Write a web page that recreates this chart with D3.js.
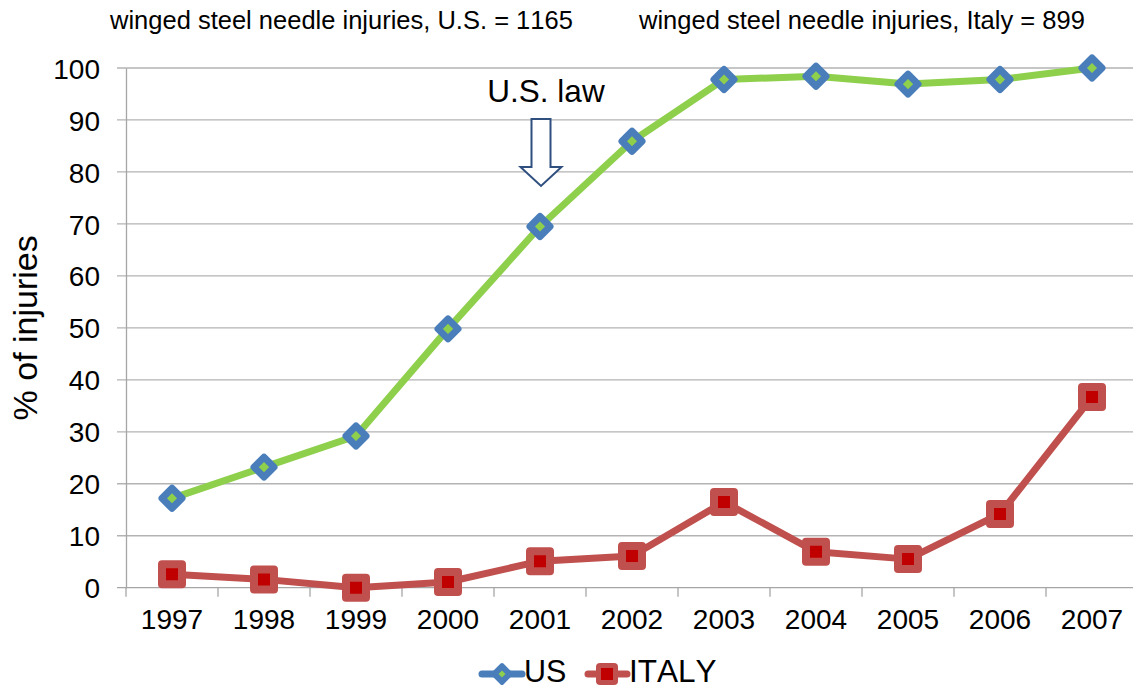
<!DOCTYPE html>
<html>
<head>
<meta charset="utf-8">
<script src="https://cdn.jsdelivr.net/npm/d3@7"></script>
<style>
  body { margin: 0; background: #fff; }
  svg text { font-family: "Liberation Sans", Arial, sans-serif; fill: #000; font-kerning: none; }
</style>
</head>
<body>
<div id="chart"></div>
<script>
// --> DATA
var years = ["1997", "1998", "1999", "2000", "2001", "2002", "2003", "2004", "2005", "2006", "2007"];
var usValues = [17.2, 23.2, 29.2, 49.8, 69.5, 85.9, 97.8, 98.4, 96.9, 97.8, 100];
var italyValues = [2.6, 1.6, 0, 1.1, 5.1, 6.1, 16.5, 6.9, 5.5, 14.2, 36.7];
var yTicks = [0, 10, 20, 30, 40, 50, 60, 70, 80, 90, 100];
var seriesNames = ["US", "ITALY"];
var topNotes = ["winged steel needle injuries, U.S. = 1165", "winged steel needle injuries, Italy = 899"];
var lawYear = "2001";

// --> SVG DRAWING AREA
var width = 1133,
    height = 691;
var margin = { top: 68, left: 126, bottom: 103, right: -5 };

var svg = d3.select("#chart").append("svg")
    .attr("width", width)
    .attr("height", height);

var x = d3.scaleBand()
    .domain(years)
    .range([margin.left, width - margin.right])
    .padding(0);

var y = d3.scaleLinear()
    .domain([0, 100])
    .range([height - margin.bottom - 0.3, margin.top]);

// gridlines
svg.append("g")
    .selectAll("line")
    .data(yTicks)
    .enter().append("line")
    .attr("x1", margin.left - 9)
    .attr("x2", width)
    .attr("y1", function(d) { return y(d); })
    .attr("y2", function(d) { return y(d); })
    .attr("stroke", function(d) { return d == 0 ? "#a6a6a6" : "#b3b3b3"; })
    .attr("stroke-width", 1.3);

// y axis
var yAxis = d3.axisLeft(y).tickValues(yTicks).tickSize(0).tickPadding(26);
var yG = svg.append("g")
    .attr("transform", "translate(" + margin.left + ",0)")
    .call(yAxis);
yG.select(".domain").attr("stroke", "#a6a6a6").attr("stroke-width", 1.3);
yG.selectAll("text").attr("font-size", 28).attr("dy", "0.36em");

// x axis
var xAxis = d3.axisBottom(x).tickSize(0).tickPadding(21);
var xG = svg.append("g")
    .attr("transform", "translate(0," + y(0) + ")")
    .call(xAxis);
xG.select(".domain").remove();
xG.selectAll("text").attr("font-size", 28);

// category separators
svg.append("g")
    .selectAll("line")
    .data(years)
    .enter().append("line")
    .attr("x1", function(d) { return x(d); })
    .attr("x2", function(d) { return x(d); })
    .attr("y1", y(0))
    .attr("y2", y(0) + 9)
    .attr("stroke", "#a6a6a6")
    .attr("stroke-width", 1.3);

// axis title
svg.append("text")
    .attr("transform", "translate(37," + ((y(0) + y(100)) / 2) + ") rotate(-90)")
    .attr("text-anchor", "middle")
    .attr("font-size", 34)
    .text("% of injuries");

// top notes
svg.append("text").attr("x", 110).attr("y", 29).attr("font-size", 25.5).text(topNotes[0]);
svg.append("text").attr("x", 639).attr("y", 29).attr("font-size", 25.5).text(topNotes[1]);

// lines
var cx = function(d, i) { return x(years[i]) + x.bandwidth() / 2; };
var line = d3.line()
    .x(cx)
    .y(function(d) { return y(d); });

svg.append("path")
    .datum(usValues)
    .attr("d", line)
    .attr("fill", "none")
    .attr("stroke", "#8ecf4c")
    .attr("stroke-width", 7)
    .attr("stroke-linejoin", "round");

svg.append("path")
    .datum(italyValues)
    .attr("d", line)
    .attr("fill", "none")
    .attr("stroke", "#c0504d")
    .attr("stroke-width", 7)
    .attr("stroke-linejoin", "round");

function diamond(g) {
    g.append("path")
        .attr("d", "M0,-10L10,0L0,10L-10,0Z")
        .attr("fill", "#8ecf4c")
        .attr("stroke", "#4a7ebb")
        .attr("stroke-width", 7)
        .attr("stroke-linejoin", "round");
}
function square(g) {
    g.append("rect")
        .attr("x", -10).attr("y", -10).attr("width", 20).attr("height", 20)
        .attr("fill", "#c00000")
        .attr("stroke", "#c0504d")
        .attr("stroke-width", 8)
        .attr("stroke-linejoin", "round");
}

svg.append("g").selectAll("g")
    .data(usValues)
    .enter().append("g")
    .attr("transform", function(d, i) { return "translate(" + cx(d, i) + "," + y(d) + ")"; })
    .each(function() { diamond(d3.select(this)); });

svg.append("g").selectAll("g")
    .data(italyValues)
    .enter().append("g")
    .attr("transform", function(d, i) { return "translate(" + cx(d, i) + "," + y(d) + ")"; })
    .each(function() { square(d3.select(this)); });

// U.S. law arrow
var ax = x(lawYear) + x.bandwidth() / 2 + 1;
svg.append("text")
    .attr("x", ax + 5)
    .attr("y", 102)
    .attr("text-anchor", "middle")
    .attr("font-size", 31.5)
    .text("U.S. law");
svg.append("path")
    .attr("d", "M" + (ax - 9.5) + ",119 L" + (ax + 9.5) + ",119 L" + (ax + 9.5) + ",167 L" + (ax + 20.5) + ",167 L" + ax + ",186 L" + (ax - 20.5) + ",167 L" + (ax - 9.5) + ",167 Z")
    .attr("fill", "#fff")
    .attr("stroke", "#2f4f7f")
    .attr("stroke-width", 2);

// legend
var legend = svg.append("g").attr("transform", "translate(0,674)");
var lg1 = legend.append("g");
lg1.append("line").attr("x1", 482).attr("x2", 522).attr("y1", 0).attr("y2", 0)
    .attr("stroke", "#4a7ebb").attr("stroke-width", 7).attr("stroke-linecap", "round");
var d1 = lg1.append("g").attr("transform", "translate(502,0)");
d1.append("path").attr("d", "M0,-9L9,0L0,9L-9,0Z").attr("fill", "#4a7ebb")
    .attr("stroke", "#4a7ebb").attr("stroke-width", 4).attr("stroke-linejoin", "round");
d1.append("path").attr("d", "M0,-3.5L3.5,0L0,3.5L-3.5,0Z").attr("fill", "#8ecf4c");
lg1.append("text").attr("x", 524).attr("y", 8).attr("font-size", 30.5).text(seriesNames[0]);

var lg2 = legend.append("g");
lg2.append("line").attr("x1", 588).attr("x2", 627).attr("y1", 0).attr("y2", 0)
    .attr("stroke", "#c0504d").attr("stroke-width", 7).attr("stroke-linecap", "round");
lg2.append("rect").attr("x", 596).attr("y", -11).attr("width", 22).attr("height", 22).attr("rx", 4)
    .attr("fill", "#c0504d");
lg2.append("rect").attr("x", 601).attr("y", -6).attr("width", 12).attr("height", 12)
    .attr("fill", "#c00000");
lg2.append("text").attr("x", 629).attr("y", 8).attr("font-size", 31.5).text(seriesNames[1]);
</script>
</body>
</html>
